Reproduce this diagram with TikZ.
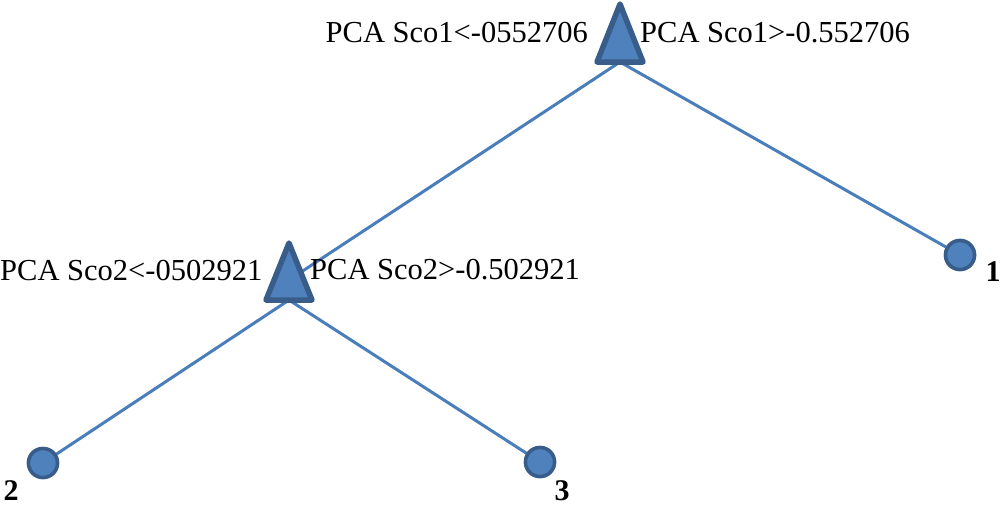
\documentclass[tikz,border=0pt]{standalone}
\usepackage{fontspec}
\setmainfont{Liberation Serif}
\definecolor{nodefill}{HTML}{4F81BD}
\definecolor{nodeedge}{HTML}{385D8A}
\definecolor{edgecol}{HTML}{4A7EBB}
\begin{document}
\begin{tikzpicture}[x=1pt,y=-1pt,
  conn/.style={draw=edgecol,line width=3pt},
  tri/.style={fill=nodefill,draw=nodeedge,line width=5.5pt,line join=round},
  leaf/.style={circle,fill=nodefill,draw=nodeedge,line width=3.5pt,minimum size=29pt,inner sep=0pt},
  lab/.style={font=\fontsize{30.5}{34}\selectfont,inner sep=0pt},
  num/.style={font=\fontsize{30}{34}\selectfont\bfseries,inner sep=0pt}]
\useasboundingbox (0,0) rectangle (1000,504);
% coordinates
\coordinate (t1) at (620,62);
\coordinate (t2) at (289,300);
\coordinate (t2c) at (289,280);
\node[leaf] (n1) at (960,255) {};
\node[leaf] (n2) at (43,463) {};
\node[leaf] (n3) at (540,462) {};
% connectors
\draw[conn] (t1) -- (t2c);
\draw[conn] (t1) -- (n1);
\draw[conn] (t2) -- (n2);
\draw[conn] (t2) -- (n3);
\node[leaf] at (n1) {};
\node[leaf] at (n2) {};
\node[leaf] at (n3) {};
% triangles
\path[tri] (620,4) -- (643,62) -- (597,62) -- cycle;
\path[tri] (289,243) -- (312,300) -- (266,300) -- cycle;
% labels
\node[lab,anchor=east] (l1) at (588,33) {PCA Sco1<-0552706};
\node[lab,anchor=west] (r1) at (640,33) {PCA Sco1>-0.552706};
\node[lab,anchor=west] (l2) at (0,270) {PCA Sco2<-0502921};
\node[lab,anchor=west] (r2) at (310,270) {PCA Sco2>-0.502921};
\node[num] (k1) at (993,272) {1};
\node[num] (k2) at (11,491) {2};
\node[num] (k3) at (562,491) {3};
\end{tikzpicture}
\end{document}
